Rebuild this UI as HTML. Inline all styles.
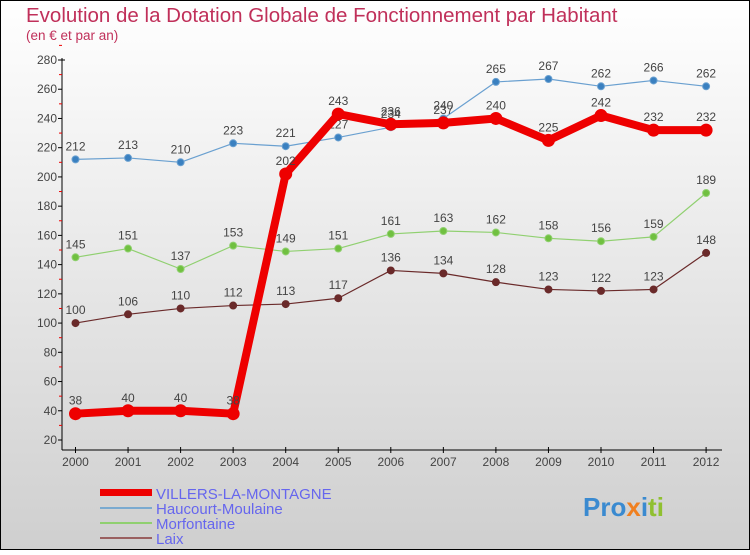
<!DOCTYPE html>
<html><head><meta charset="utf-8"><style>
body{margin:0}
#c{width:750px;height:550px;position:relative;font-family:"Liberation Sans",sans-serif}
</style></head><body>
<div id="c">
<svg id="s" width="750" height="550" xmlns="http://www.w3.org/2000/svg">
<defs><linearGradient id="bg" x1="0" y1="0" x2="0" y2="1"><stop offset="0" stop-color="#ffffff"/><stop offset="1" stop-color="#cfcfcf"/></linearGradient></defs>
<rect x="0.5" y="0.5" width="749" height="549" fill="url(#bg)" stroke="#000"/>
<text x="26" y="22" font-size="20.5" fill="#c0305a">Evolution de la Dotation Globale de Fonctionnement par Habitant</text>
<text x="26" y="40" font-size="13.5" fill="#c0305a">(en € et par an)</text>
<g id="axes"></g><g id="series"></g>
<g>
<rect x="100" y="489" width="52" height="7" fill="#e00"/>
<text x="156" y="499" font-size="15" fill="#6666ee">VILLERS-LA-MONTAGNE</text>
<rect x="100" y="507" width="52" height="2" fill="#7aaad0"/>
<text x="156" y="514" font-size="15" fill="#6666ee">Haucourt-Moulaine</text>
<rect x="100" y="522" width="52" height="2" fill="#90d070"/>
<text x="156" y="529" font-size="15" fill="#6666ee">Morfontaine</text>
<rect x="100" y="537" width="52" height="2" fill="#9a6060"/>
<text x="156" y="544" font-size="15" fill="#6666ee">Laix</text>
</g>
<g font-size="26" font-weight="bold">
<text x="583" y="516"><tspan fill="#3a8ad0">Pro</tspan><tspan fill="#f08020">x</tspan><tspan fill="#3a8ad0">i</tspan><tspan fill="#90c030">ti</tspan></text>
</g>
</svg></div>
<script>
const years=[2000,2001,2002,2003,2004,2005,2006,2007,2008,2009,2010,2011,2012];
const villers=[38,40,40,38,202,243,236,237,240,225,242,232,232];
const haucourt=[212,213,210,223,221,227,234,240,265,267,262,266,262];
const morfontaine=[145,151,137,153,149,151,161,163,162,158,156,159,189];
const laix=[100,106,110,112,113,117,136,134,128,123,122,123,148];
const yTicks=[20,40,60,80,100,120,140,160,180,200,220,240,260,280];
const NS="http://www.w3.org/2000/svg";
function X(i){return 75.5+i*52.55;}
function Y(v){return 440-(v-20)*(380/260);}
function mk(t,a,p){const e=document.createElementNS(NS,t);for(const k in a)e.setAttribute(k,a[k]);p.appendChild(e);return e;}
const ax=document.getElementById('axes');
const ya=mk('line',{x1:62,y1:58,x2:62,y2:450,stroke:'#000'},ax);


const xa=mk('line',{x1:62,y1:450,x2:722,y2:450,stroke:'#000'},ax);


mk('line',{x1:59,y1:Y(280),x2:65,y2:Y(280),stroke:'#000'},ax);
yTicks.forEach(v=>{
 mk('line',{x1:58,y1:Y(v),x2:62,y2:Y(v),stroke:'#000'},ax);
 mk('line',{x1:59,y1:Y(v+10),x2:62,y2:Y(v+10),stroke:'#e00'},ax);
 const t=mk('text',{x:57,y:Y(v)+4,'font-size':12,fill:'#444','text-anchor':'end'},ax);t.textContent=v;
 
 
});
years.forEach((y,i)=>{
 mk('line',{x1:X(i),y1:447,x2:X(i),y2:453,stroke:'#000'},ax);
 const t=mk('text',{x:X(i),y:466,'font-size':12,fill:'#444','text-anchor':'middle'},ax);t.textContent=y;
 
 
});
const sg=document.getElementById('series');
function series(vals,name,col,dot,w,r){
 const g=mk('g',{},sg);
 
 
 mk('polyline',{points:vals.map((v,i)=>X(i)+','+Y(v)).join(' '),fill:'none',stroke:col,'stroke-width':w,'stroke-linejoin':'round'},g);
 vals.forEach((v,i)=>{
  const c=mk('circle',{cx:X(i),cy:Y(v),r:r,fill:dot,stroke:col,'stroke-width':1},g);
  
  
  const t=mk('text',{x:X(i),y:Y(v)-9,'font-size':12,fill:'#444','text-anchor':'middle'},g);t.textContent=v;
  
  
 });
}
series(laix,'laix','#6a2a2a','#6a2a2a',1.2,3.5);
series(morfontaine,'morfontaine','#90d070','#70c040',1.2,3.5);
series(haucourt,'haucourt','#6aa0d0','#3a80c0',1.2,3.5);
series(villers,'villers','#ee0000','#ee0000',8,6);
</script>
</body></html>
